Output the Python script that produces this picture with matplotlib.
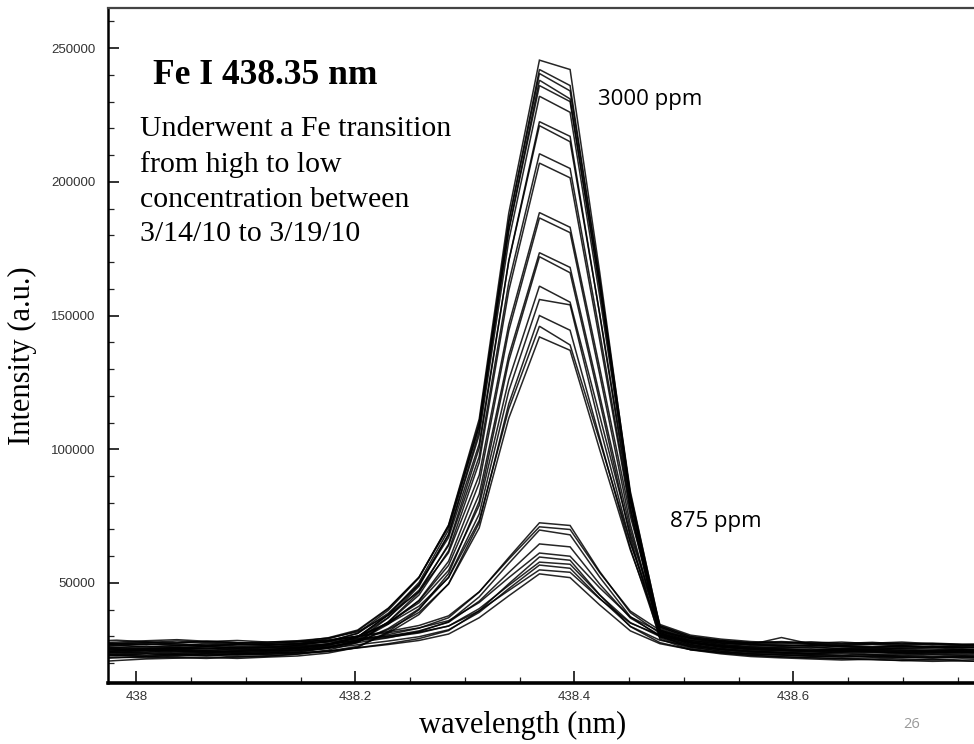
import numpy as np
import matplotlib
matplotlib.use("Agg")
import matplotlib.pyplot as plt
from matplotlib.ticker import MultipleLocator, FixedLocator

# ---------------- data (intensity in thousands of counts) ----------------
wavelength = [437.954, 437.982, 438.009, 438.037, 438.064, 438.092, 438.120, 438.147,
              438.175, 438.202, 438.230, 438.258, 438.285, 438.313, 438.340, 438.368,
              438.396, 438.423, 438.451, 438.478, 438.506, 438.534, 438.561, 438.589,
              438.616, 438.644, 438.672, 438.699, 438.727, 438.754, 438.782]

# spectra recorded at high concentration (~3000 ppm)
spectra_3000 = [
    [25.1, 25.9, 26.4, 25.7, 25.3, 26.0, 26.2, 26.8, 28.1, 31.2, 39.8, 51.9, 71.7, 111.3, 188.3, 245.5, 242.0, 166.3, 82.7, 32.5, 28.5, 27.0, 26.2, 25.8, 26.1, 25.4, 25.0, 25.6, 25.9, 25.2, 24.8],
    [24.6, 23.8, 24.2, 24.9, 24.4, 23.9, 24.5, 25.0, 26.6, 29.7, 38.2, 50.2, 69.8, 109.0, 185.3, 242.0, 236.0, 163.5, 81.8, 31.0, 27.0, 25.5, 24.6, 24.1, 23.7, 24.3, 24.0, 23.5, 23.9, 24.2, 23.6],
    [27.2, 26.8, 26.1, 26.6, 27.4, 27.0, 26.7, 27.3, 29.1, 32.1, 40.4, 52.2, 71.4, 110.0, 184.9, 240.5, 234.0, 163.5, 84.3, 33.5, 29.5, 28.0, 27.1, 26.6, 26.9, 26.3, 26.0, 26.5, 26.2, 25.8, 26.1],
    [22.4, 22.9, 23.5, 23.1, 22.7, 23.3, 23.8, 24.1, 25.6, 28.6, 37.0, 48.8, 68.2, 106.9, 182.1, 238.0, 231.0, 160.6, 81.0, 30.0, 26.0, 24.5, 23.4, 23.0, 22.6, 22.9, 22.3, 22.0, 22.5, 22.1, 21.8],
    [27.8, 27.3, 27.0, 27.6, 28.2, 27.7, 27.4, 28.0, 29.5, 32.4, 40.6, 52.1, 70.9, 108.5, 181.7, 236.0, 230.0, 160.8, 83.4, 34.0, 30.0, 28.5, 27.6, 27.9, 27.3, 26.8, 27.2, 27.5, 26.9, 26.6, 27.0],
    [24.0, 24.7, 25.2, 24.8, 24.3, 24.6, 25.1, 25.5, 27.0, 29.9, 38.0, 49.4, 68.1, 105.4, 178.1, 232.0, 226.0, 157.3, 81.6, 31.5, 27.5, 26.0, 25.0, 24.6, 24.2, 24.5, 24.9, 24.3, 24.0, 24.4, 23.9],
    [21.8, 22.3, 22.0, 22.6, 23.0, 22.4, 22.8, 23.4, 24.9, 27.7, 35.5, 46.5, 64.5, 100.5, 170.5, 222.5, 217.0, 150.5, 78.5, 29.5, 25.5, 24.0, 23.0, 22.4, 22.1, 21.7, 22.0, 21.5, 21.2, 21.6, 21.3],
    [26.5, 26.0, 25.7, 26.3, 26.8, 26.2, 25.9, 26.6, 28.3, 31.1, 38.7, 49.4, 67.0, 102.0, 170.3, 221.0, 215.0, 150.8, 80.6, 33.0, 29.0, 27.5, 26.7, 26.3, 26.8, 26.1, 25.7, 26.0, 26.4, 25.9, 25.5],
    [24.4, 25.1, 25.6, 25.2, 24.8, 25.4, 25.8, 25.6, 27.2, 29.8, 37.1, 47.3, 64.0, 97.3, 162.3, 210.5, 205.0, 143.7, 77.9, 32.0, 28.0, 26.5, 25.6, 25.1, 24.7, 25.0, 25.4, 24.8, 24.5, 24.9, 24.6],
    [23.9, 23.4, 23.0, 23.6, 24.0, 23.5, 23.8, 24.3, 25.7, 28.3, 35.4, 45.5, 62.0, 95.1, 159.3, 207.0, 201.5, 140.9, 76.7, 30.5, 26.5, 25.0, 24.0, 23.6, 23.2, 23.5, 23.0, 22.7, 23.1, 22.8, 22.5],
    [28.2, 28.6, 28.0, 27.6, 28.1, 28.5, 27.9, 28.4, 29.4, 31.7, 38.0, 46.8, 61.3, 90.3, 146.6, 188.5, 183.0, 130.5, 75.0, 34.5, 30.5, 29.0, 28.1, 27.6, 28.0, 27.4, 27.8, 27.2, 27.5, 27.1, 26.8],
    [23.5, 24.1, 24.6, 24.2, 23.8, 24.4, 24.7, 25.0, 26.0, 28.2, 34.6, 43.5, 58.1, 87.4, 144.3, 186.5, 181.0, 128.0, 71.9, 31.0, 27.0, 25.5, 24.5, 24.0, 23.6, 24.1, 24.4, 23.8, 23.4, 23.7, 23.2],
    [26.0, 25.6, 25.2, 25.8, 26.3, 25.7, 26.0, 26.5, 27.3, 29.3, 35.1, 43.3, 56.6, 83.2, 135.0, 173.5, 168.0, 120.2, 69.9, 32.5, 28.5, 27.0, 26.1, 25.7, 26.0, 25.5, 25.1, 25.6, 25.3, 24.9, 25.2],
    [20.3, 21.0, 21.6, 21.9, 22.2, 21.8, 22.3, 22.7, 23.8, 25.9, 31.8, 40.0, 53.5, 80.5, 133.0, 172.0, 166.0, 118.0, 67.0, 29.0, 25.0, 23.5, 22.5, 22.0, 21.6, 21.2, 21.5, 21.0, 20.7, 20.9, 20.5],
    [27.0, 27.5, 27.9, 27.2, 26.8, 27.3, 26.9, 27.4, 28.1, 30.0, 35.2, 42.6, 54.7, 79.0, 126.0, 161.0, 155.0, 112.6, 68.2, 33.5, 29.5, 28.0, 27.2, 26.8, 26.4, 26.7, 27.0, 26.5, 26.1, 26.4, 26.0],
    [24.9, 24.3, 24.7, 25.2, 24.8, 24.4, 24.9, 25.3, 26.1, 27.9, 33.0, 40.3, 52.1, 75.8, 121.8, 156.0, 154.0, 108.7, 65.3, 31.5, 27.5, 26.0, 25.1, 24.7, 24.3, 24.6, 24.2, 23.9, 24.3, 24.0, 24.4],
    [23.5, 23.0, 22.6, 23.2, 23.6, 23.1, 23.4, 23.9, 24.5, 26.3, 31.3, 38.2, 49.7, 72.5, 117.0, 150.0, 144.5, 104.3, 63.0, 30.0, 26.0, 24.5, 23.6, 23.2, 22.8, 22.4, 22.7, 22.3, 22.0, 22.4, 22.1],
    [26.6, 27.2, 27.7, 28.3, 27.8, 27.4, 27.9, 28.2, 28.4, 30.1, 34.7, 41.3, 52.0, 73.4, 115.1, 146.0, 139.0, 103.2, 65.1, 34.0, 30.0, 28.5, 27.7, 28.1, 27.6, 27.2, 27.5, 27.9, 27.3, 27.0, 27.4],
    [25.4, 24.9, 25.3, 25.8, 25.5, 25.0, 25.6, 25.9, 26.4, 28.0, 32.6, 39.0, 49.6, 70.6, 111.6, 142.0, 137.0, 99.9, 62.4, 32.0, 28.0, 26.5, 25.6, 25.2, 24.8, 25.1, 24.7, 24.4, 24.8, 24.5, 24.2],
]

# spectra recorded at low concentration (~875 ppm)
spectra_875 = [
    [24.0, 24.6, 25.0, 24.5, 24.2, 24.8, 25.1, 25.7, 26.9, 28.8, 30.7, 33.1, 37.0, 46.6, 59.5, 72.5, 71.5, 54.3, 38.9, 31.2, 27.9, 26.2, 25.3, 24.9, 24.5, 24.8, 24.3, 24.0, 24.4, 24.1, 23.7],
    [26.4, 26.9, 27.3, 26.8, 26.5, 27.0, 26.7, 27.1, 28.3, 30.1, 31.9, 34.1, 37.7, 46.7, 58.9, 71.0, 70.0, 53.9, 39.5, 32.3, 29.2, 27.6, 27.0, 29.6, 27.2, 26.6, 26.2, 26.5, 26.0, 25.7, 26.1],
    [23.0, 23.4, 23.9, 23.5, 23.1, 23.6, 24.0, 24.7, 25.8, 27.7, 29.5, 31.8, 35.5, 44.8, 57.3, 69.8, 68.0, 52.2, 37.4, 30.0, 26.7, 25.1, 24.2, 23.8, 23.3, 22.9, 23.2, 22.6, 22.3, 22.7, 22.4],
    [25.6, 25.2, 24.8, 25.3, 25.7, 25.4, 25.0, 26.0, 27.0, 28.6, 30.1, 32.1, 35.3, 43.2, 53.9, 64.6, 63.5, 49.6, 36.9, 30.5, 27.8, 26.4, 25.5, 25.1, 25.4, 24.9, 24.5, 24.8, 24.3, 24.6, 24.2],
    [27.5, 27.9, 28.4, 28.8, 28.2, 27.7, 27.4, 27.9, 28.7, 30.1, 31.4, 33.2, 35.9, 42.7, 52.0, 61.2, 60.0, 48.2, 37.3, 31.8, 29.4, 28.2, 27.6, 27.2, 27.5, 27.9, 27.3, 26.9, 27.2, 26.8, 26.5],
    [21.6, 22.0, 22.5, 22.1, 21.8, 22.3, 22.6, 23.4, 24.4, 25.8, 27.3, 29.2, 32.2, 39.6, 49.7, 59.7, 58.5, 45.6, 33.7, 27.7, 25.1, 23.8, 22.9, 22.4, 22.0, 21.7, 21.3, 21.0, 21.4, 20.9, 20.6],
    [25.9, 25.4, 25.0, 25.6, 26.1, 25.7, 26.0, 26.3, 27.1, 28.4, 29.7, 31.3, 33.9, 40.4, 49.1, 57.8, 57.0, 45.5, 35.2, 30.0, 27.8, 26.6, 25.8, 25.4, 25.0, 25.3, 25.7, 25.2, 24.8, 25.1, 24.7],
    [24.5, 24.1, 23.7, 24.2, 24.6, 24.0, 24.3, 24.8, 25.6, 26.9, 28.3, 29.9, 32.5, 39.0, 47.9, 56.7, 55.5, 44.3, 33.8, 28.6, 26.3, 25.1, 24.4, 24.0, 23.6, 23.9, 23.4, 23.1, 23.5, 23.2, 22.9],
    [26.0, 26.6, 27.1, 26.7, 26.3, 26.8, 27.0, 27.2, 27.9, 29.1, 30.2, 31.6, 33.9, 39.6, 47.2, 54.9, 54.0, 44.1, 35.0, 30.5, 28.5, 27.5, 26.9, 26.4, 26.7, 26.2, 25.9, 26.3, 25.8, 26.1, 25.6],
    [23.4, 22.9, 22.5, 23.0, 23.5, 23.1, 23.3, 23.8, 24.5, 25.7, 27.0, 28.5, 30.9, 37.0, 45.2, 53.4, 52.0, 41.8, 32.1, 27.3, 25.1, 24.1, 23.5, 23.1, 22.7, 22.3, 22.6, 22.2, 21.9, 22.3, 22.0],
]

x_major = [438.0, 438.2, 438.4, 438.6, 438.8]
x_labels = ["438", "438.2", "438.4", "438.6", "438.8"]
y_major = [50000, 100000, 150000, 200000, 250000]
y_labels = ["50000", "100000", "150000", "200000", "250000"]

title_text = "Fe I 438.35 nm"
note_text = "Underwent a Fe transition\nfrom high to low\nconcentration between\n3/14/10 to 3/19/10"

# ---------------- figure ----------------
W, H = 974, 744
fig = plt.figure(figsize=(W / 100, H / 100), dpi=100)

def fx(px):
    return px / W

def fy(py):
    return 1 - py / H

ax_l, ax_r, ax_t, ax_b = 108, 984, 8, 683
ax = fig.add_axes([fx(ax_l), fy(ax_b), fx(ax_r - ax_l), (ax_b - ax_t) / H])

wl = np.array(wavelength)
for row in spectra_3000 + spectra_875:
    ax.plot(wl, np.array(row) * 1000, color="black", lw=1.1, alpha=0.85,
            solid_joinstyle="miter")

ax.set_xlim(437.974, 438.774)
ax.set_ylim(12600, 265000)

ax.xaxis.set_major_locator(FixedLocator(x_major))
ax.set_xticklabels(x_labels)
ax.xaxis.set_minor_locator(MultipleLocator(0.05))
ax.yaxis.set_major_locator(FixedLocator(y_major))
ax.set_yticklabels(y_labels)
ax.yaxis.set_minor_locator(MultipleLocator(10000))

ax.tick_params(axis="both", which="both", direction="in", colors="#222222",
               labelcolor="#333333", labelsize=9.5)
ax.tick_params(axis="x", which="major", length=9, width=1.3, pad=6)
ax.tick_params(axis="x", which="minor", length=4, width=0.9)
ax.tick_params(axis="y", which="major", length=8, width=1.3, pad=9)
ax.tick_params(axis="y", which="minor", length=4, width=0.9)
ax.tick_params(right=False, top=False, which="both")
for lab in ax.get_xticklabels() + ax.get_yticklabels():
    lab.set_family(["Liberation Sans", "DejaVu Sans"])

ax.spines["left"].set_linewidth(1.8)
ax.spines["bottom"].set_linewidth(2.6)
ax.spines["top"].set_linewidth(1.6)
ax.spines["top"].set_color("#444444")
ax.spines["right"].set_visible(False)

serif = ["Liberation Serif", "DejaVu Serif"]
sans = ["Open Sans", "DejaVu Sans"]

fig.text(fx(153), fy(75), title_text, family=serif, fontweight="bold",
         fontsize=25.5, ha="left", va="center")
fig.text(fx(140), fy(116), note_text, family=serif, fontsize=21.5,
         ha="left", va="top", linespacing=1.43)
fig.text(fx(598), fy(100), "3000 ppm", family=sans, fontsize=16,
         ha="left", va="center")
fig.text(fx(670), fy(522), "875 ppm", family=sans, fontsize=16,
         ha="left", va="center")

fig.text(fx(22), fy(356), "Intensity (a.u.)", family=serif, fontsize=22,
         rotation=90, ha="center", va="center")
fig.text(fx(523), fy(725), "wavelength (nm)", family=serif, fontsize=22,
         ha="center", va="center")
fig.text(fx(912), fy(724), "26", family=sans, fontsize=10.5, color="#999999",
         ha="center", va="center")

fig.savefig("out.png", dpi=100)
